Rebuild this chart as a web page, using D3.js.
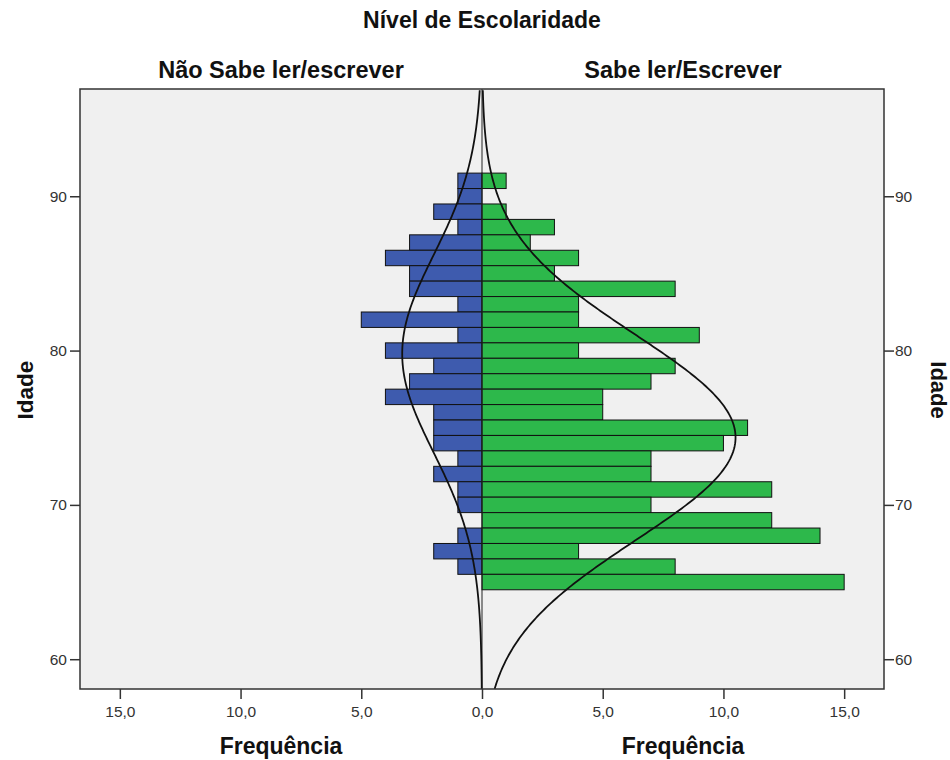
<!DOCTYPE html>
<html>
<head>
<meta charset="utf-8">
<script src="https://cdn.jsdelivr.net/npm/d3@7"></script>
<style>
  body { margin: 0; background: #fff; }
  svg { font-family: "Liberation Sans", Arial, sans-serif; }
  .tick text { fill: #333; }
  .tick line, .domain { stroke: #333; }
</style>
</head>
<body>
<svg id="chart" width="950" height="760"></svg>
<script>
// ages of the bins (1 year wide), top to bottom
const ages = [91, 90, 89, 88, 87, 86, 85, 84, 83, 82, 81, 80, 79, 78, 77, 76, 75, 74, 73, 72, 71, 70, 69, 68, 67, 66, 65];
// frequencies per age
const naoSabe = [1, 1, 2, 1, 3, 4, 3, 3, 1, 5, 1, 4, 2, 3, 4, 2, 2, 2, 1, 2, 1, 1, 0, 1, 2, 1, 0];
const sabe = [1, 0, 1, 3, 2, 4, 3, 8, 4, 4, 9, 4, 8, 7, 5, 5, 11, 10, 7, 7, 12, 7, 12, 14, 4, 8, 15];
const freqTicks = [0, 5, 10, 15];
const ageTicks = [60, 70, 80, 90];
const groups = ["Não Sabe ler/escrever", "Sabe ler/Escrever"];

const svg = d3.select("#chart"),
    plot = {left: 80, right: 884, top: 89, bottom: 689, mid: 482};

const y = d3.scaleLinear().domain([58.07, 96.95]).range([plot.bottom, plot.top]);
const xL = d3.scaleLinear().domain([0, 16.65]).range([plot.mid, plot.left]);
const xR = d3.scaleLinear().domain([0, 16.65]).range([plot.mid, plot.right]);

const fmt = d => d.toFixed(1).replace(".", ",");

// plot background
svg.append("rect")
    .attr("x", plot.left).attr("y", plot.top)
    .attr("width", plot.right - plot.left).attr("height", plot.bottom - plot.top)
    .attr("fill", "#f0f0f0");

// bars
function drawBars(values, x, color) {
    svg.append("g")
        .selectAll("rect")
        .data(ages.map((a, i) => ({age: a, n: values[i]})).filter(d => d.n > 0))
        .enter()
        .append("rect")
        .attr("x", d => Math.min(x(0), x(d.n)))
        .attr("y", d => y(d.age + 0.5))
        .attr("width", d => Math.abs(x(d.n) - x(0)))
        .attr("height", d => y(d.age - 0.5) - y(d.age + 0.5))
        .attr("fill", color)
        .attr("stroke", "#111")
        .attr("stroke-width", 1);
}
drawBars(naoSabe, xL, "#3e5bae");
drawBars(sabe, xR, "#2db84b");

// center line
svg.append("line")
    .attr("x1", plot.mid).attr("x2", plot.mid)
    .attr("y1", plot.top).attr("y2", plot.bottom)
    .attr("stroke", "#222").attr("stroke-width", 1);

// normal curves, scaled to count * bin width
function drawNormal(values, x) {
    let raw = [];
    ages.forEach((a, i) => { for (let k = 0; k < values[i]; k++) raw.push(a); });
    let mu = d3.mean(raw), sd = d3.deviation(raw), n = raw.length;
    let pts = d3.range(58.07, 96.96, 0.1).map(a =>
        [a, n * Math.exp(-0.5 * Math.pow((a - mu) / sd, 2)) / (sd * Math.sqrt(2 * Math.PI))]);
    svg.append("path")
        .datum(pts)
        .attr("fill", "none")
        .attr("stroke", "#111")
        .attr("stroke-width", 1.8)
        .attr("d", d3.line().x(d => x(d[1])).y(d => y(d[0])));
}
drawNormal(naoSabe, xL);
drawNormal(sabe, xR);

// frame
svg.append("rect")
    .attr("x", plot.left).attr("y", plot.top)
    .attr("width", plot.right - plot.left).attr("height", plot.bottom - plot.top)
    .attr("fill", "none")
    .attr("stroke", "#333").attr("stroke-width", 1.5);

// axes
function styleAxis(g) {
    g.attr("font-size", 15.5).attr("font-family", "'Liberation Sans', Arial, sans-serif");
    g.select(".domain").remove();
}
svg.append("g")
    .attr("transform", "translate(0," + plot.bottom + ")")
    .call(d3.axisBottom(xL).tickValues(freqTicks).tickFormat(fmt).tickSize(10).tickPadding(7))
    .call(styleAxis);
svg.append("g")
    .attr("transform", "translate(0," + plot.bottom + ")")
    .call(d3.axisBottom(xR).tickValues(freqTicks.slice(1)).tickFormat(fmt).tickSize(10).tickPadding(7))
    .call(styleAxis);
svg.append("g")
    .attr("transform", "translate(" + plot.left + ",0)")
    .call(d3.axisLeft(y).tickValues(ageTicks).tickSize(10).tickPadding(3))
    .call(styleAxis);
svg.append("g")
    .attr("transform", "translate(" + plot.right + ",0)")
    .call(d3.axisRight(y).tickValues(ageTicks).tickSize(10).tickPadding(1))
    .call(styleAxis);
svg.selectAll(".tick line").attr("stroke-width", 1.5);

// titles
svg.append("text")
    .attr("x", plot.mid).attr("y", 28)
    .attr("text-anchor", "middle")
    .attr("font-size", 23).attr("font-weight", "bold").attr("fill", "#111")
    .text("Nível de Escolaridade");
svg.selectAll(".grp")
    .data(groups)
    .enter()
    .append("text")
    .attr("x", (d, i) => i === 0 ? (plot.left + plot.mid) / 2 : (plot.mid + plot.right) / 2)
    .attr("y", 78)
    .attr("text-anchor", "middle")
    .attr("font-size", 23.5).attr("font-weight", "bold").attr("fill", "#111")
    .text(d => d);
[(plot.left + plot.mid) / 2, (plot.mid + plot.right) / 2].forEach(cx => {
    svg.append("text")
        .attr("x", cx).attr("y", 754)
        .attr("text-anchor", "middle")
        .attr("font-size", 23).attr("font-weight", "bold").attr("fill", "#111")
        .text("Frequência");
});
svg.append("text")
    .attr("transform", "translate(33,390) rotate(-90)")
    .attr("text-anchor", "middle")
    .attr("font-size", 22.5).attr("font-weight", "bold").attr("fill", "#111")
    .text("Idade");
svg.append("text")
    .attr("transform", "translate(931,390) rotate(90)")
    .attr("text-anchor", "middle")
    .attr("font-size", 22).attr("font-weight", "bold").attr("fill", "#111")
    .text("Idade");
</script>
</body>
</html>
